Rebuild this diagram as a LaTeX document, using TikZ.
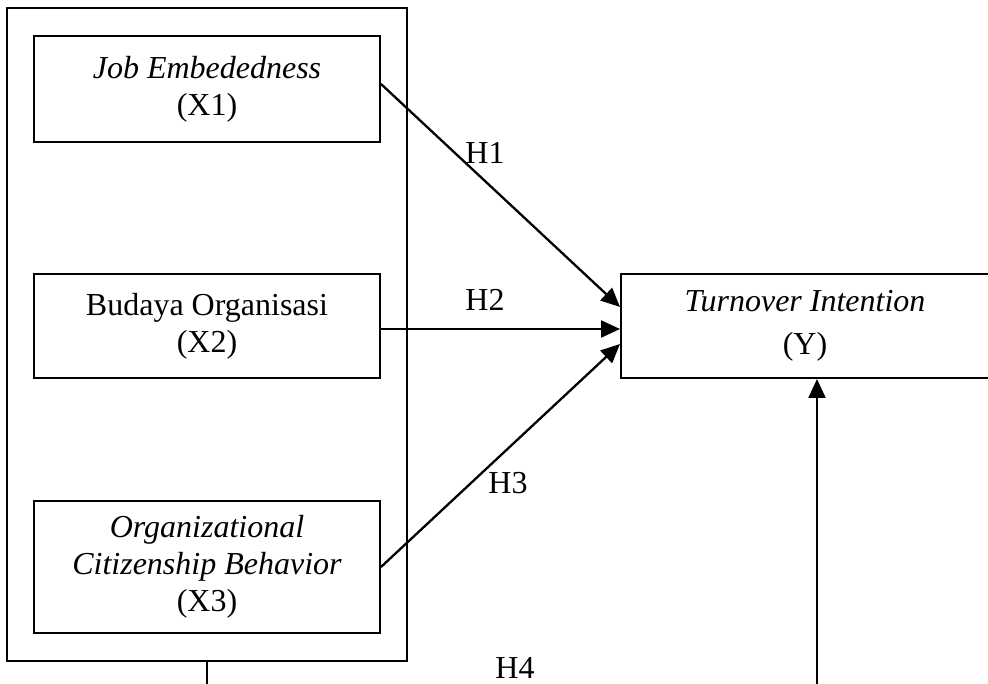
\documentclass[tikz,border=0pt]{standalone}
\usepackage{fontspec}
\setmainfont{Liberation Serif}
\usepackage{tikz}
\usetikzlibrary{arrows.meta,positioning,fit,calc}
\newcommand{\varfont}{\fontsize{32}{37}\selectfont}
\tikzset{
  varbox/.style={rectangle, draw=black, line width=2pt, align=center, inner sep=0pt, minimum width=346pt, font=\varfont},
  groupbox/.style={rectangle, draw=black, line width=2pt, inner xsep=26pt, inner ysep=27pt},
  hyp/.style={-{Triangle[length=19pt,width=17pt]}, line width=2.3pt},
  hlabel/.style={font=\varfont, inner sep=0pt},
}
\begin{document}
\begin{tikzpicture}[x=1pt,y=-1pt]
  \useasboundingbox (0,0) rectangle (988,684);
  \node[varbox,minimum height=106pt] (x1) at (207,89) {\textit{Job Embededness}\\(X1)};
  \node[varbox,minimum height=104pt,below=130pt of x1] (x2) {Budaya Organisasi\\(X2)};
  \node[varbox,minimum height=132pt,below=121pt of x2] (x3) {\textit{Organizational}\\\textit{Citizenship Behavior}\\(X3)};
  \node[groupbox,fit=(x1)(x3)] (grp) {};
  \node[varbox,minimum width=368pt,minimum height=104pt,right=239pt of x2,font=\fontsize{32}{43}\selectfont] (y) {\textit{Turnover Intention}\\(Y)};
  \coordinate (b1) at (grp.south |- 0,684);
  \coordinate (b2) at ($(y.south)+(12,0)$);
  \coordinate (b3) at (b2 |- 0,684);
  % hypotheses
  \draw[hyp] ([yshift=5pt]x1.east) -- ([yshift=19pt]y.west);
  \draw[hyp] ([yshift=-3pt]x2.east) -- ([yshift=-3pt]y.west);
  \draw[hyp] (x3.east) -- ([yshift=-18pt]y.west);
  \draw[line width=2.3pt] (grp.south) -- (b1);
  \draw[hyp] (b3) -- (b2);
  \node[hlabel] (h1) at (485,153) {H1};
  \node[hlabel] (h2) at (485,300) {H2};
  \node[hlabel] (h3) at (508,483) {H3};
  \node[hlabel] (h4) at (515,668) {H4};
\end{tikzpicture}
\end{document}
